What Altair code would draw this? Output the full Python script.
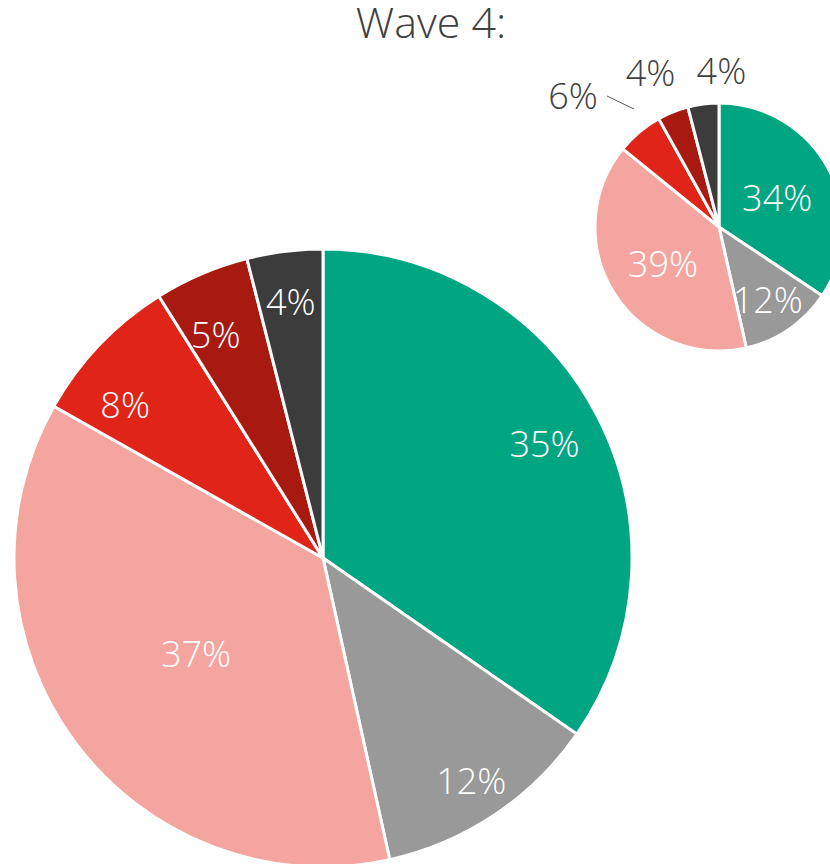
import altair as alt
import pandas as pd

# ---- data ----
categories = ["Segment 1", "Segment 2", "Segment 3", "Segment 4", "Segment 5", "Segment 6"]
colors = ["#00A582", "#999999", "#F5A59F", "#E02418", "#A81A10", "#3C3C3C"]
big_values = [35, 12, 37, 8, 5, 4]      # large pie
small_values = [34, 12, 39, 6, 4, 4]    # small pie (Wave 4)
title_text = "Wave 4:"

FONT = "Open Sans"
TEXT_DARK = "#404040"


def frame(values):
    return pd.DataFrame({
        "category": categories,
        "order": list(range(len(categories))),
        "value": values,
        "label": [f"{v}%" for v in values],
    })


def pie(values, cx, cy, r, label_specs):
    base = alt.Chart(frame(values)).encode(
        theta=alt.Theta("value:Q", stack=True),
        order=alt.Order("order:Q"),
        x=alt.value(cx),
        y=alt.value(cy),
    )
    arcs = base.mark_arc(radius=r, stroke="white", strokeWidth=3).encode(
        color=alt.Color("category:N", scale=alt.Scale(domain=categories, range=colors), legend=None)
    )
    layers = [arcs]
    for idxs, radius, dx, dy, col in label_specs:
        cond = " || ".join(f"datum.order == {i}" for i in idxs)
        layers.append(
            base.mark_text(radius=radius, dx=dx, dy=dy, font=FONT, fontSize=36,
                           fontWeight=300, color=col).encode(
                text=alt.condition(cond, "label:N", alt.value(""))
            )
        )
    return alt.layer(*layers)


big = pie(big_values, 323, 558, 309, [
    ([0], 250, 0, 4, "white"),
    ([1], 266, 0, 4, "white"),
    ([2], 158, 0, 4, "white"),
    ([3], 250, -17, 22, "white"),
    ([4], 250, -9, 9, "white"),
    ([5], 260, 0, 4, "white"),
])

small = pie(small_values, 719, 227, 124, [
    ([0, 2], 66, 0, 4, "white"),
    ([1], 86, 0, 4, "white"),
    ([3], 165, -40, -3, TEXT_DARK),
    ([4], 168, -6, 4, TEXT_DARK),
    ([5], 155, 22, 0, TEXT_DARK),
])

title = alt.Chart(pd.DataFrame({"t": [title_text]})).mark_text(
    font=FONT, fontSize=43, fontWeight=300, color=TEXT_DARK
).encode(text="t:N", x=alt.value(431), y=alt.value(25))

leader = alt.Chart(pd.DataFrame({"k": [0]})).mark_rule(color="#595959", strokeWidth=1).encode(
    x=alt.value(607), y=alt.value(96), x2=alt.value(634), y2=alt.value(109)
)

chart = alt.layer(big, small, leader, title).resolve_scale(theta="independent").properties(
    width=830, height=864, autosize="none", padding=0
).configure_view(stroke=None)

chart.save("out.html", embed_options={"renderer": "svg", "actions": False})
